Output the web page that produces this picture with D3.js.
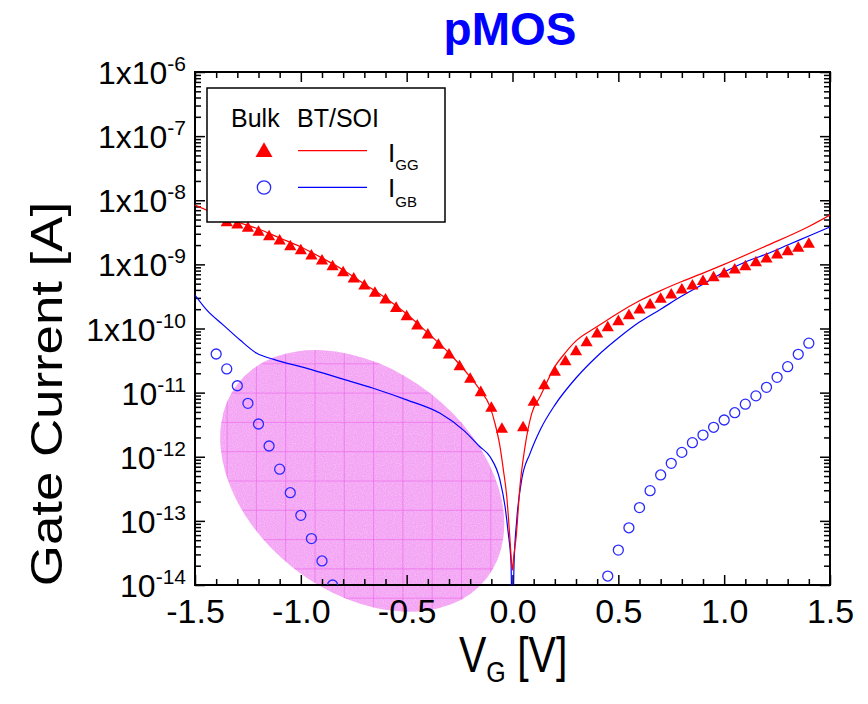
<!DOCTYPE html>
<html>
<head>
<meta charset="utf-8">
<script src="https://cdn.jsdelivr.net/npm/d3@7"></script>
<style>
  body { margin: 0; background: #fff; }
  svg { display: block; font-family: "Liberation Sans", Arial, sans-serif; }
</style>
</head>
<body>
<svg id="chart" width="868" height="704"></svg>
<script>
// ---- Bulk measurements (markers) ----
const bulkGGVoltage = [-1.35, -1.30, -1.25, -1.20, -1.15, -1.10, -1.05, -1.00, -0.95, -0.90,
  -0.85, -0.80, -0.75, -0.70, -0.65, -0.60, -0.55, -0.50, -0.45, -0.40, -0.35, -0.30, -0.25,
  -0.20, -0.15, -0.10, -0.05,
  0.05, 0.10, 0.15, 0.20, 0.25, 0.30, 0.35, 0.40, 0.45, 0.50, 0.55, 0.60, 0.65, 0.70, 0.75,
  0.80, 0.85, 0.90, 0.95, 1.00, 1.05, 1.10, 1.15, 1.20, 1.25, 1.30, 1.35, 1.40];
const bulkGGCurrent = [4.47e-9, 4.11e-9, 3.65e-9, 3.16e-9, 2.70e-9, 2.32e-9, 1.89e-9, 1.63e-9,
  1.35e-9, 1.13e-9, 9.2e-10, 7.4e-10, 5.9e-10, 4.6e-10, 3.54e-10, 2.78e-10, 2.06e-10, 1.53e-10,
  1.09e-10, 7.9e-11, 5.5e-11, 3.86e-11, 2.54e-11, 1.61e-11, 1.0e-11, 5.7e-12, 2.68e-12,
  2.84e-12, 7.1e-12, 1.28e-11, 2.07e-11, 3.03e-11, 4.35e-11, 6.0e-11, 8.2e-11, 1.03e-10,
  1.28e-10, 1.58e-10, 1.94e-10, 2.32e-10, 2.85e-10, 3.33e-10, 3.98e-10, 4.6e-10, 5.4e-10,
  6.2e-10, 7.1e-10, 8.2e-10, 9.2e-10, 1.06e-9, 1.21e-9, 1.40e-9, 1.58e-9, 1.78e-9, 2.06e-9];

const bulkGBVoltage = [-1.40, -1.35, -1.30, -1.25, -1.20, -1.15, -1.10, -1.05, -1.00, -0.95,
  -0.90, -0.85,
  0.45, 0.50, 0.55, 0.60, 0.65, 0.70, 0.75, 0.80, 0.85, 0.90, 0.95, 1.00, 1.05, 1.10, 1.15,
  1.20, 1.25, 1.30, 1.35, 1.40];
const bulkGBCurrent = [4.0e-11, 2.34e-11, 1.28e-11, 6.8e-12, 3.24e-12, 1.47e-12, 6.4e-13,
  2.75e-13, 1.22e-13, 5.3e-14, 2.37e-14, 1.0e-14,
  1.38e-14, 3.5e-14, 7.8e-14, 1.61e-13, 2.96e-13, 5.2e-13, 7.9e-13, 1.17e-12, 1.66e-12,
  2.18e-12, 2.88e-12, 3.74e-12, 4.86e-12, 6.6e-12, 8.9e-12, 1.21e-11, 1.73e-11, 2.54e-11,
  3.96e-11, 5.9e-11];

// ---- BT/SOI simulation (lines) ----
const soiGGVoltage = [-1.5, -1.4, -1.3, -1.2, -1.1, -1.0, -0.9, -0.8, -0.7, -0.6, -0.5, -0.4,
  -0.3, -0.2, -0.154, -0.106, -0.083, -0.059, -0.043, -0.027, -0.015, -0.004, 0, 0.005, 0.017,
  0.035, 0.059, 0.091, 0.13, 0.2, 0.25, 0.3, 0.4, 0.5, 0.6, 0.7, 0.8, 0.9, 1.0, 1.2, 1.4, 1.5];
const soiGGCurrent = [8.43e-9, 6.1e-9, 4.58e-9, 3.56e-9, 2.58e-9, 1.87e-9, 1.26e-9, 8.2e-10,
  4.94e-10, 2.99e-10, 1.68e-10, 8.5e-11, 4.15e-11, 1.75e-11, 1.10e-11, 6.0e-12, 3.33e-12,
  1.44e-12, 6.2e-13, 2.38e-13, 7.2e-14, 2.18e-14, 1.71e-14, 2.6e-14, 5.5e-14, 3.4e-13,
  1.43e-12, 4.75e-12, 8.6e-12, 2.54e-11, 4.2e-11, 6.4e-11, 1.07e-10, 1.75e-10, 2.7e-10,
  3.9e-10, 5.4e-10, 7.3e-10, 1.0e-9, 1.95e-9, 3.9e-9, 5.9e-9];

const soiGBVoltage = [-1.5, -1.445, -1.366, -1.287, -1.208, -1.128, -0.971, -0.813, -0.658,
  -0.5, -0.342, -0.232, -0.154, -0.106, -0.059, -0.035, -0.020, -0.007, 0, 0.007, 0.02, 0.043,
  0.083, 0.13, 0.2, 0.3, 0.4, 0.5, 0.6, 0.7, 0.8, 0.9, 1.0, 1.1, 1.2, 1.3, 1.4, 1.5];
const soiGBCurrent = [3.33e-10, 1.95e-10, 1.13e-10, 6.6e-11, 4.1e-11, 3.3e-11, 2.39e-11,
  1.67e-11, 1.17e-11, 7.7e-12, 4.75e-12, 2.6e-12, 1.43e-12, 1.0e-12, 4.3e-13, 1.66e-13,
  6.4e-14, 2.2e-14, 1e-15, 2e-14, 1.03e-13, 4.3e-13, 1.13e-12, 2.6e-12, 6.4e-12, 1.69e-11,
  3.7e-11, 7.1e-11, 1.26e-10, 2.0e-10, 3.2e-10, 4.9e-10, 7.6e-10, 1.09e-9, 1.45e-9, 2.0e-9,
  2.77e-9, 3.83e-9];

// ---- Axis ticks ----
const xTickValues = [-1.5, -1.0, -0.5, 0.0, 0.5, 1.0, 1.5];
const xTickLabels = ["-1.5", "-1.0", "-0.5", "0.0", "0.5", "1.0", "1.5"];
const yTickValues = [1e-6, 1e-7, 1e-8, 1e-9, 1e-10, 1e-11, 1e-12, 1e-13, 1e-14];
const yTickMantissas = ["1x10", "1x10", "1x10", "1x10", "1x10", "10", "10", "10", "10"];
const yTickExponents = ["-6", "-7", "-8", "-9", "-10", "-11", "-12", "-13", "-14"];

// ---- Highlighted region (centre in data units) ----
const regionCenterVoltage = -0.71;
const regionCenterCurrent = 4.2e-13;

const svg = d3.select("#chart");
const plotL = 195, plotR = 830, plotT = 72, plotB = 585;

const x = d3.scaleLinear().domain([-1.5, 1.5]).range([plotL, plotR]);
const y = d3.scaleLog().domain([1e-14, 1e-6]).range([plotB, plotT]);

const defs = svg.append("defs");
defs.append("clipPath").attr("id", "plotClip")
  .append("rect").attr("x", plotL).attr("y", plotT)
  .attr("width", plotR - plotL).attr("height", plotB - plotT);

// ---- Pink highlighted ellipse with grid texture ----
const ecx = x(regionCenterVoltage), ecy = y(regionCenterCurrent);
defs.append("clipPath").attr("id", "ellipseClip")
  .append("ellipse").attr("cx", 0).attr("cy", 0).attr("rx", 158).attr("ry", 111)
  .attr("transform", `translate(${ecx},${ecy}) rotate(38)`);
const grain = defs.append("filter").attr("id", "grain")
  .attr("x", 0).attr("y", 0).attr("width", 1).attr("height", 1);
grain.append("feTurbulence").attr("type", "fractalNoise").attr("baseFrequency", 0.9)
  .attr("numOctaves", 1).attr("seed", 4);
grain.append("feColorMatrix").attr("type", "matrix")
  .attr("values", "0 0 0 0 1  0 0 0 0 1  0 0 0 0 1  1.6 0 0 0 -0.65");

const region = svg.append("g").attr("clip-path", "url(#ellipseClip)");
region.append("rect").attr("x", ecx - 200).attr("y", ecy - 200)
  .attr("width", 400).attr("height", 400).attr("fill", "#f4a4f4");
region.append("rect").attr("x", ecx - 200).attr("y", ecy - 200)
  .attr("width", 400).attr("height", 400).attr("filter", "url(#grain)").attr("opacity", 0.45);
const gridStep = 29.3;
const gx0 = 315, gy0 = 451.7;
const gridXs = d3.range(-6, 9).map(k => gx0 + k * gridStep);
const gridYs = d3.range(-5, 7).map(k => gy0 + k * gridStep);
region.selectAll("line.gv").data(gridXs).join("line").attr("class", "gv")
  .attr("x1", d => d).attr("x2", d => d).attr("y1", ecy - 200).attr("y2", ecy + 200)
  .attr("stroke", "#ec5cec").attr("stroke-width", 1).attr("opacity", 0.55);
region.selectAll("line.gh").data(gridYs).join("line").attr("class", "gh")
  .attr("y1", d => d).attr("y2", d => d).attr("x1", ecx - 200).attr("x2", ecx + 200)
  .attr("stroke", "#ec5cec").attr("stroke-width", 1).attr("opacity", 0.55);

// ---- Axes: inward ticks on all four sides ----
const minorX = d3.range(-15, 16).map(i => i / 10)
  .filter(v => Math.abs(v * 2 - Math.round(v * 2)) > 1e-6);
const minorY = [];
for (let e = -14; e < -6; e++) for (let m = 2; m <= 9; m++) minorY.push(m * Math.pow(10, e));

function styleAxis(g) {
  g.select(".domain").remove();
  g.selectAll(".tick line").attr("stroke", "#000").attr("stroke-width", 1.5);
  g.attr("font-family", null).attr("font-size", null);
}

svg.append("g").attr("transform", `translate(0,${plotB})`)
  .call(d3.axisBottom(x).tickValues(minorX).tickSizeInner(-6).tickSizeOuter(0).tickFormat(""))
  .call(styleAxis);
svg.append("g").attr("transform", `translate(0,${plotB})`)
  .call(d3.axisBottom(x).tickValues(xTickValues).tickSizeInner(-10).tickSizeOuter(0)
    .tickPadding(14).tickFormat((d, i) => xTickLabels[i]))
  .call(styleAxis)
  .call(g => g.selectAll("text").attr("font-size", 34).attr("fill", "#000"));
svg.append("g").attr("transform", `translate(0,${plotT})`)
  .call(d3.axisTop(x).tickValues(minorX).tickSizeInner(-6).tickSizeOuter(0).tickFormat(""))
  .call(styleAxis);
svg.append("g").attr("transform", `translate(0,${plotT})`)
  .call(d3.axisTop(x).tickValues(xTickValues).tickSizeInner(-10).tickSizeOuter(0).tickFormat(""))
  .call(styleAxis);
svg.append("g").attr("transform", `translate(${plotL},0)`)
  .call(d3.axisLeft(y).tickValues(minorY).tickSizeInner(-6).tickSizeOuter(0).tickFormat(""))
  .call(styleAxis);
svg.append("g").attr("transform", `translate(${plotL},0)`)
  .call(d3.axisLeft(y).tickValues(yTickValues).tickSizeInner(-10).tickSizeOuter(0).tickFormat(""))
  .call(styleAxis);
svg.append("g").attr("transform", `translate(${plotR},0)`)
  .call(d3.axisRight(y).tickValues(minorY).tickSizeInner(-6).tickSizeOuter(0).tickFormat(""))
  .call(styleAxis);
svg.append("g").attr("transform", `translate(${plotR},0)`)
  .call(d3.axisRight(y).tickValues(yTickValues).tickSizeInner(-10).tickSizeOuter(0).tickFormat(""))
  .call(styleAxis);

// y tick labels with superscript exponents
const yLabels = svg.append("g").attr("text-anchor", "end").attr("fill", "#000");
yTickValues.forEach((v, i) => {
  const t = yLabels.append("text").attr("x", 186).attr("y", y(v) + 12).attr("font-size", 32);
  t.append("tspan").text(yTickMantissas[i]);
  t.append("tspan").attr("dy", -13).attr("font-size", 21).text(yTickExponents[i]);
});

// frame
svg.append("rect").attr("x", plotL).attr("y", plotT)
  .attr("width", plotR - plotL).attr("height", plotB - plotT)
  .attr("fill", "none").attr("stroke", "#000").attr("stroke-width", 2);

// ---- Data ----
const plot = svg.append("g").attr("clip-path", "url(#plotClip)");
const line = d3.line().x(d => x(d[0])).y(d => y(d[1])).curve(d3.curveMonotoneX);

plot.append("path").datum(d3.zip(soiGBVoltage, soiGBCurrent))
  .attr("d", line).attr("fill", "none").attr("stroke", "#0000ff").attr("stroke-width", 1.2);
plot.append("path").datum(d3.zip(soiGGVoltage, soiGGCurrent))
  .attr("d", line).attr("fill", "none").attr("stroke", "#ff0000").attr("stroke-width", 1.2);

const tri = d3.symbol().type(d3.symbolTriangle).size(64);
plot.selectAll("path.gg").data(d3.zip(bulkGGVoltage, bulkGGCurrent)).join("path")
  .attr("class", "gg").attr("d", tri)
  .attr("transform", d => `translate(${x(d[0])},${y(d[1])})`)
  .attr("fill", "#ff0000");

plot.selectAll("circle.gb").data(d3.zip(bulkGBVoltage, bulkGBCurrent)).join("circle")
  .attr("class", "gb").attr("cx", d => x(d[0])).attr("cy", d => y(d[1])).attr("r", 5)
  .attr("fill", "none").attr("stroke", "#2a2aff").attr("stroke-width", 1.3);

// ---- Legend ----
const lg = svg.append("g");
lg.append("rect").attr("x", 207).attr("y", 88).attr("width", 238).attr("height", 134)
  .attr("fill", "#fff").attr("stroke", "#000").attr("stroke-width", 1.5);
lg.append("text").attr("x", 231).attr("y", 127).attr("font-size", 25).text("Bulk");
lg.append("text").attr("x", 297).attr("y", 127).attr("font-size", 25).text("BT/SOI");
lg.append("path").attr("d", d3.symbol().type(d3.symbolTriangle).size(125))
  .attr("transform", "translate(264,152)").attr("fill", "#ff0000");
lg.append("circle").attr("cx", 264).attr("cy", 187.5).attr("r", 6.7)
  .attr("fill", "none").attr("stroke", "#2a2aff").attr("stroke-width", 1.3);
lg.append("line").attr("x1", 298).attr("x2", 367).attr("y1", 150.7).attr("y2", 150.7)
  .attr("stroke", "#ff0000").attr("stroke-width", 1.2);
lg.append("line").attr("x1", 298).attr("x2", 367).attr("y1", 187.3).attr("y2", 187.3)
  .attr("stroke", "#0000ff").attr("stroke-width", 1.2);
const ig = lg.append("text").attr("x", 388).attr("y", 162).attr("font-size", 26);
ig.append("tspan").text("I");
ig.append("tspan").attr("dy", 8).attr("font-size", 15).text("GG");
const ib = lg.append("text").attr("x", 388).attr("y", 197).attr("font-size", 26);
ib.append("tspan").text("I");
ib.append("tspan").attr("dy", 10).attr("font-size", 15).text("GB");

// ---- Titles ----
svg.append("text").attr("x", 510).attr("y", 45).attr("text-anchor", "middle")
  .attr("font-weight", "bold")
  .attr("font-size", 46).attr("fill", "#0000ff").text("pMOS");

const xt = svg.append("text").attr("transform", "translate(459,672) scale(1,1.2)")
  .attr("font-size", 41).attr("fill", "#000");
xt.append("tspan").text("V");
xt.append("tspan").attr("dy", 8.5).attr("font-size", 25).text("G");
xt.append("tspan").attr("dy", -8.5).text(" [V]");

svg.append("text").attr("transform", "translate(62,394) rotate(-90) scale(1.2,1)")
  .attr("text-anchor", "middle").attr("font-size", 44).attr("fill", "#000")
  .text("Gate Current [A]");
</script>
</body>
</html>
